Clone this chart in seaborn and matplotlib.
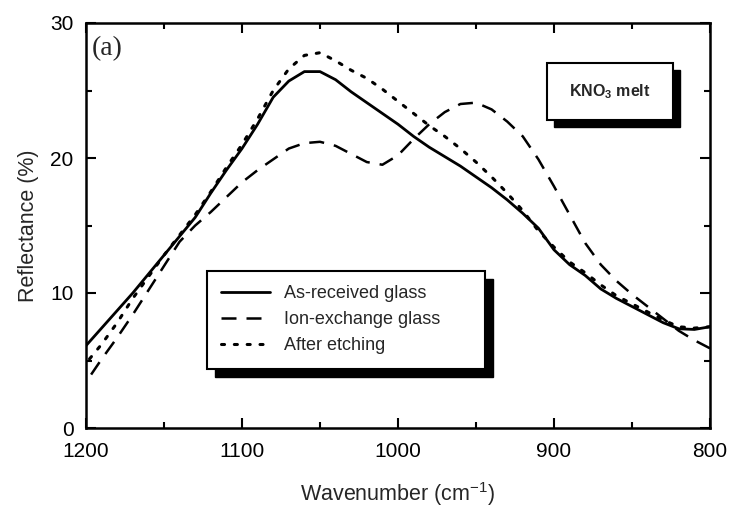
import numpy as np
import pandas as pd
import matplotlib
matplotlib.use("Agg")
import matplotlib.pyplot as plt
from matplotlib.patches import Rectangle
import seaborn as sns

# ---- data ----
wavenumber = [1200, 1190, 1180, 1170, 1160, 1150, 1140, 1130, 1120, 1110,
              1100, 1090, 1080, 1070, 1060, 1050, 1040, 1030, 1020, 1010,
              1000, 990, 980, 970, 960, 950, 940, 930, 920, 910,
              900, 890, 880, 870, 860, 850, 840, 830, 820, 810, 800]

as_received = [6.1, 7.4, 8.7, 10.0, 11.4, 12.8, 14.2, 15.6, 17.4, 19.1,
               20.7, 22.5, 24.5, 25.7, 26.4, 26.4, 25.8, 24.9, 24.1, 23.3,
               22.5, 21.6, 20.8, 20.1, 19.4, 18.6, 17.8, 16.9, 15.9, 14.8,
               13.2, 12.1, 11.3, 10.3, 9.6, 9.0, 8.4, 7.8, 7.35, 7.3, 7.5]

ion_exchange = [3.4, 5.1, 6.7, 8.4, 10.2, 12.0, 13.8, 15.0, 16.0, 17.1,
                18.2, 19.1, 19.9, 20.7, 21.1, 21.2, 20.9, 20.3, 19.7, 19.5,
                20.2, 21.4, 22.5, 23.4, 24.0, 24.1, 23.6, 22.7, 21.6, 19.9,
                17.9, 15.8, 13.7, 12.1, 10.9, 9.9, 9.0, 8.1, 7.2, 6.5, 5.9]

after_etching = [4.8, 6.2, 7.8, 9.6, 11.2, 12.8, 14.3, 15.8, 17.5, 19.3,
                 21.0, 22.9, 25.0, 26.6, 27.6, 27.8, 27.2, 26.5, 25.9, 25.1,
                 24.2, 23.3, 22.4, 21.6, 20.7, 19.7, 18.6, 17.4, 16.1, 14.6,
                 13.4, 12.3, 11.5, 10.6, 9.8, 9.2, 8.6, 8.0, 7.5, 7.4, 7.5]

series_labels = ["As-received glass", "Ion-exchange glass", "After etching"]
x_ticks = [1200, 1100, 1000, 900, 800]
y_ticks = [0, 10, 20, 30]

# ---- style ----
sns.set_theme(style="ticks")
plt.rcParams["font.family"] = ["Liberation Sans", "DejaVu Sans"]
plt.rcParams["mathtext.default"] = "regular"

fig = plt.figure(figsize=(7.31, 5.09), dpi=100)
ax = fig.add_axes([86 / 731, 1 - 428 / 509, 624 / 731, 405 / 509])

styles = ["-", (0, (6, 4)), (0, (1, 3.2))]
widths = [2.0, 1.8, 2.2]
caps = ["butt", "butt", "round"]
for vals, lab, ls, lw, cs in zip([as_received, ion_exchange, after_etching],
                                 series_labels, styles, widths, caps):
    df = pd.DataFrame({"Wavenumber": wavenumber, "Reflectance": vals})
    sns.lineplot(data=df, x="Wavenumber", y="Reflectance", ax=ax,
                 color="black", linestyle=ls, linewidth=lw, label=lab,
                 dash_capstyle=cs)

ax.set_xlim(1200, 800)
ax.set_ylim(0, 30)
ax.set_xticks(x_ticks)
ax.set_yticks(y_ticks)
ax.set_xticks([1150, 1050, 950, 850], minor=True)
ax.set_yticks([5, 15, 25], minor=True)
ax.tick_params(which="both", direction="in", top=True, right=True,
               labelsize=15, colors="black", width=1.5)
ax.tick_params(which="major", length=7)
ax.tick_params(which="minor", length=4)
ax.tick_params(axis="x", which="major", pad=10)
ax.tick_params(axis="y", which="major", pad=9)
for sp in ax.spines.values():
    sp.set_linewidth(1.8)
    sp.set_color("black")

ax.set_xlabel("Wavenumber (cm$^{-1}$)", fontsize=15.5, labelpad=14)
ax.set_ylabel("Reflectance (%)", fontsize=15.5, labelpad=8)

ax.text(0.01, 0.968, "(a)", transform=ax.transAxes, ha="left", va="top",
        fontsize=20, family=["Liberation Serif", "DejaVu Serif"])

# legend (box spans the same region as in the reference)
lg_x0, lg_w = (207 - 86) / 624, 278 / 624
lg_top, lg_h = (428 - 271) / 405, 97 / 405
leg = ax.legend(loc="upper left",
                bbox_to_anchor=(lg_x0, lg_top - lg_h, lg_w, lg_h),
                mode="expand",
                fontsize=13, frameon=True, fancybox=False, framealpha=1,
                facecolor="white", edgecolor="black",
                handlelength=2.7, handletextpad=0.75, labelspacing=0.5,
                borderpad=0.8, borderaxespad=0)
leg.get_frame().set_linewidth(1.5)
leg.set_zorder(6)

# KNO3 melt box with shadow
bx0, bx1 = (547 - 86) / 624, (673 - 86) / 624
by0, by1 = (428 - 120) / 405, (428 - 63) / 405
dx, dy = 7 / 624, 7 / 405
ax.add_patch(Rectangle((bx0 + dx, by0 - dy), bx1 - bx0, by1 - by0,
                       transform=ax.transAxes, fc="black", ec="black",
                       zorder=5))
ax.add_patch(Rectangle((bx0, by0), bx1 - bx0, by1 - by0,
                       transform=ax.transAxes, fc="white", ec="black",
                       lw=1.5, zorder=5.5))
ax.text((bx0 + bx1) / 2, (by0 + by1) / 2, "KNO$_3$ melt",
        transform=ax.transAxes, ha="center", va="center", fontsize=11.5,
        fontweight="bold", zorder=6)

# legend shadow measured after layout
fig.canvas.draw()
renderer = fig.canvas.get_renderer()
bb = leg.get_frame().get_window_extent(renderer)
inv = ax.transAxes.inverted()
(lx0, ly0), (lx1, ly1) = inv.transform([[bb.x0, bb.y0], [bb.x1, bb.y1]])
ax.add_patch(Rectangle((lx0 + 8 / 624, ly0 - 8 / 405), lx1 - lx0, ly1 - ly0,
                       transform=ax.transAxes, fc="black", ec="black",
                       zorder=5.8))

fig.savefig("out.png", dpi=100)
